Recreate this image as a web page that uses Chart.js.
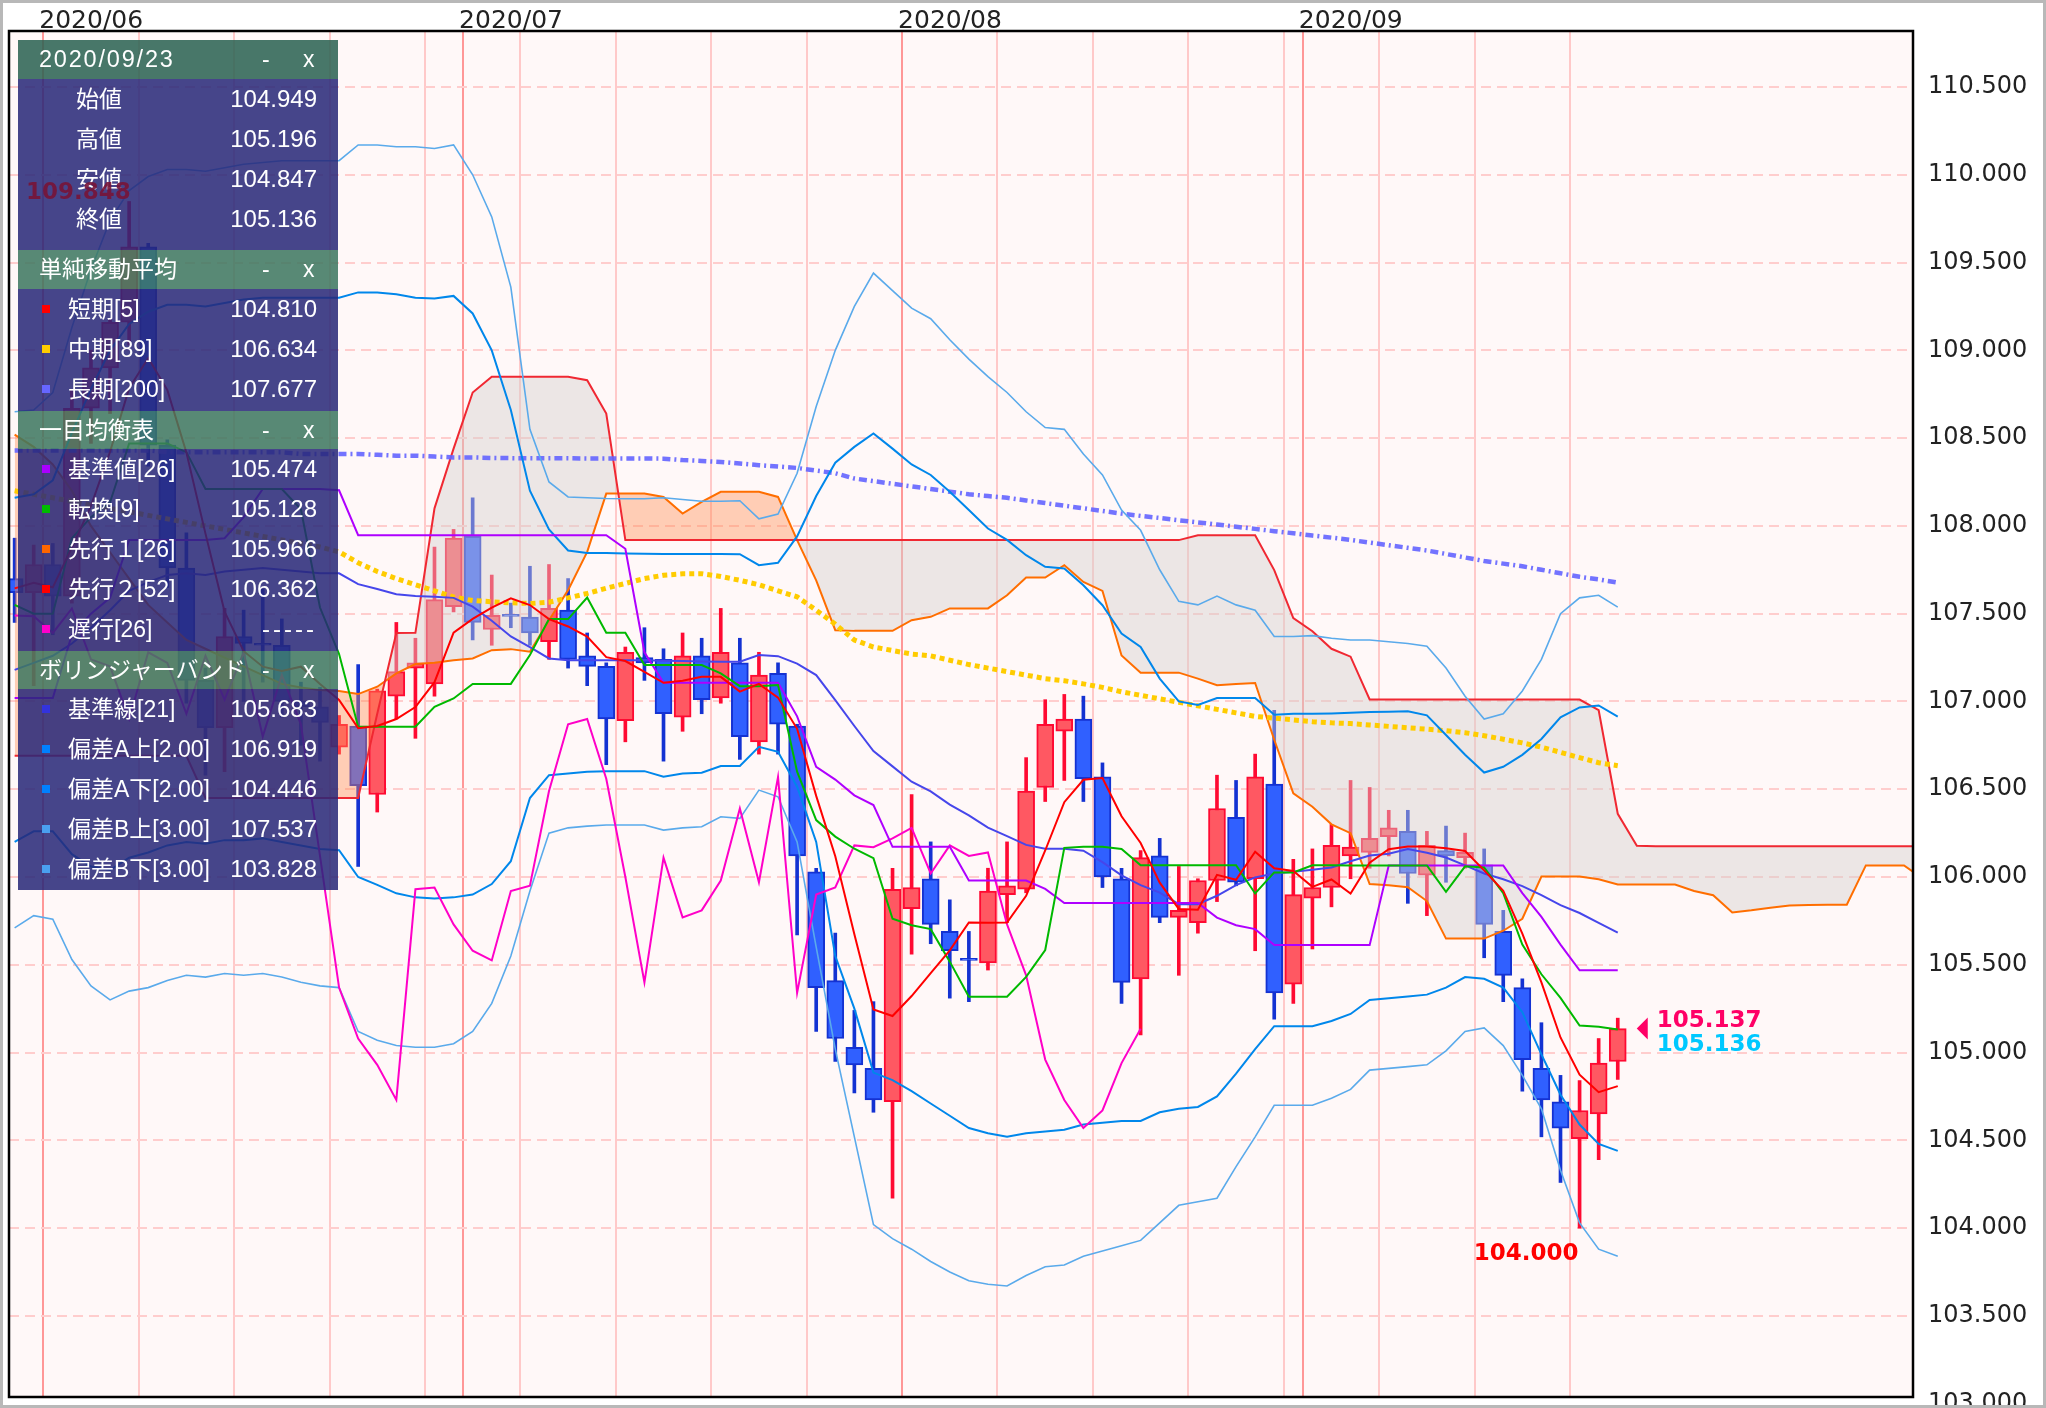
<!DOCTYPE html>
<html>
<head>
<meta charset="utf-8">
<script src="https://cdn.jsdelivr.net/npm/chart.js@4.4.1/dist/chart.umd.min.js"></script>
<style>
html,body{margin:0;padding:0;background:#fff;}
#wrap{position:relative;width:2046px;height:1408px;overflow:hidden;}
#c{position:absolute;left:0;top:0;}
#panel{position:absolute;left:18px;top:40px;width:320px;color:#fff;font-family:"Liberation Sans","Noto Sans CJK JP",sans-serif;font-size:23px;}
.hd{position:relative;height:39px;line-height:39px;background:rgba(61,119,95,0.86);}
.hd.first{background:rgba(42,98,81,0.86);}
.hd .t{position:absolute;left:21px;}
.hd .date{letter-spacing:1.8px;font-size:23.5px;}
.hd .mn{position:absolute;left:244px;}
.hd .cl{position:absolute;left:285px;}
.bd{position:relative;background:rgba(40,40,120,0.86);}
.row{position:relative;height:40px;line-height:40px;}
.row .lb0{position:absolute;left:58px;}
.row .lb{position:absolute;left:50px;}
.row i{position:absolute;left:24px;top:16px;width:8px;height:8px;}
.row .v{position:absolute;right:21px;font-size:24px;}
#hilab{position:absolute;left:26px;top:180px;font:bold 23px "DejaVu Sans";line-height:23px;color:rgba(120,20,55,0.9);}
</style>
</head>
<body>
<div id="wrap">
<canvas id="c" width="2046" height="1408" style="width:2046px;height:1408px"></canvas>
<div id="panel">
  <div class="hd first"><span class="t date">2020/09/23</span><span class="mn">-</span><span class="cl">x</span></div>
  <div class="bd" style="height:171px">
    <div class="row"><span class="lb0">始値</span><span class="v">104.949</span></div>
    <div class="row"><span class="lb0">高値</span><span class="v">105.196</span></div>
    <div class="row"><span class="lb0">安値</span><span class="v">104.847</span></div>
    <div class="row"><span class="lb0">終値</span><span class="v">105.136</span></div>
  </div>
  <div class="hd"><span class="t">単純移動平均</span><span class="mn">-</span><span class="cl">x</span></div>
  <div class="bd" style="height:122px">
    <div class="row"><i style="background:#ff0000"></i><span class="lb">短期[5]</span><span class="v">104.810</span></div>
    <div class="row"><i style="background:#ffcc00"></i><span class="lb">中期[89]</span><span class="v">106.634</span></div>
    <div class="row"><i style="background:#6666ff"></i><span class="lb">長期[200]</span><span class="v">107.677</span></div>
  </div>
  <div class="hd" style="height:38px;line-height:38px"><span class="t">一目均衡表</span><span class="mn">-</span><span class="cl">x</span></div>
  <div class="bd" style="height:202px">
    <div class="row"><i style="background:#aa00ff"></i><span class="lb">基準値[26]</span><span class="v">105.474</span></div>
    <div class="row"><i style="background:#00bb00"></i><span class="lb">転換[9]</span><span class="v">105.128</span></div>
    <div class="row"><i style="background:#ff6600"></i><span class="lb">先行１[26]</span><span class="v">105.966</span></div>
    <div class="row"><i style="background:#ff0000"></i><span class="lb">先行２[52]</span><span class="v">106.362</span></div>
    <div class="row"><i style="background:#ff00cc"></i><span class="lb">遅行[26]</span><span class="v" style="letter-spacing:3px">-----</span></div>
  </div>
  <div class="hd" style="height:38px;line-height:38px"><span class="t">ボリンジャーバンド</span><span class="mn">-</span><span class="cl">x</span></div>
  <div class="bd" style="height:201px">
    <div class="row"><i style="background:#3333dd"></i><span class="lb">基準線[21]</span><span class="v">105.683</span></div>
    <div class="row"><i style="background:#0080ff"></i><span class="lb">偏差A上[2.00]</span><span class="v">106.919</span></div>
    <div class="row"><i style="background:#0080ff"></i><span class="lb">偏差A下[2.00]</span><span class="v">104.446</span></div>
    <div class="row"><i style="background:#4aa0f0"></i><span class="lb">偏差B上[3.00]</span><span class="v">107.537</span></div>
    <div class="row"><i style="background:#4aa0f0"></i><span class="lb">偏差B下[3.00]</span><span class="v">103.828</span></div>
  </div>
</div>
<div id="hilab">109.848</div>
</div>
<script>
// ---------- data (bar index 0 = 2020/06/01, arrays start at index -2 = 2020/05/28) ----------
const START = -2;
const monthTicks = [-0.5, 21.5, 44.5, 65.5];
const monthLabels = ['2020/06', '2020/07', '2020/08', '2020/09'];
const weekTicks = [-0.5, 4.5, 9.5, 14.5, 19.5, 21.5, 24.5, 29.5, 34.5, 39.5, 44.5, 49.5, 54.5, 59.5, 64.5, 65.5, 69.5, 74.5, 79.5];
const yTicks = [103.0,103.5,104.0,104.5,105.0,105.5,106.0,106.5,107.0,107.5,108.0,108.5,109.0,109.5,110.0,110.5];

const open = [107.70,107.62,107.78,107.60,108.67,108.90,109.16,109.59,108.46,107.76,107.12,106.85,107.37,107.33,107.32,107.00,106.97,
106.74,106.86,106.47,107.03,107.19,107.10,107.54,107.94,107.41,107.495,
107.48,107.34,107.52,107.26,107.20,106.89,107.25,107.24,106.91,107.26,
107.02,107.22,106.77,107.16,106.86,106.03,105.41,105.03,104.91,104.72,
105.82,105.99,105.69,105.535,105.51,105.90,105.93,106.51,106.83,106.90,
106.57,105.99,105.42,106.12,105.77,105.74,105.98,106.34,105.99,106.53,
105.39,105.88,105.94,106.12,106.14,106.23,106.26,106.01,106.15,106.11,
106.07,105.69,105.37,104.91,104.72,104.51,104.65,104.949];
const high = [107.93,107.89,107.90,108.77,109.00,109.18,109.848,109.61,108.49,107.96,107.19,107.53,107.52,107.64,107.47,107.11,107.08,
106.92,107.21,107.07,107.45,107.36,107.88,107.98,108.16,107.72,107.56,
107.77,107.78,107.70,107.39,107.22,107.31,107.42,107.30,107.39,107.36,
107.53,107.36,107.28,107.22,106.87,106.05,105.68,105.24,105.29,106.05,
106.47,106.20,105.87,105.69,106.05,106.20,106.68,107.01,107.04,107.03,
106.65,106.05,106.15,106.22,106.06,105.99,106.58,106.55,106.70,106.95,
106.10,106.16,106.30,106.55,106.51,106.38,106.38,106.26,106.29,106.25,
106.16,105.81,105.42,105.17,104.87,104.84,105.08,105.196];
const low = [107.45,107.09,107.38,107.56,108.47,108.64,109.03,108.34,107.65,106.99,106.58,106.60,107.00,107.11,106.91,106.75,106.66,
106.70,106.06,106.37,106.90,106.79,107.03,107.51,107.35,107.32,107.42,
107.32,107.24,107.19,107.09,106.64,106.77,107.12,106.66,106.83,106.93,
106.99,106.67,106.70,106.70,105.67,105.12,104.95,104.77,104.66,104.17,
105.56,105.62,105.31,105.29,105.47,105.74,105.91,106.43,106.55,106.43,
105.94,105.28,105.10,105.74,105.44,105.68,105.86,105.95,105.58,105.19,
105.28,105.59,105.83,105.99,106.05,106.12,105.85,105.78,105.97,106.05,
105.54,105.29,104.78,104.52,104.26,104.00,104.39,104.847];
const close = [107.62,107.78,107.60,108.67,108.90,109.16,109.59,108.46,107.76,107.12,106.85,107.37,107.33,107.32,107.00,106.97,106.88,
106.87,106.52,107.06,107.17,107.22,107.58,107.93,107.45,107.49,107.485,
107.39,107.53,107.24,107.20,106.90,107.28,107.22,106.93,107.26,107.01,
107.28,106.80,107.15,106.87,106.12,105.37,105.08,104.93,104.73,105.93,
105.94,105.73,105.58,105.525,105.92,105.95,106.49,106.87,106.90,106.56,
106.00,105.40,106.11,105.77,105.81,105.98,106.39,105.97,106.57,105.34,
105.90,105.94,106.18,106.17,106.22,106.28,106.02,106.18,106.12,106.14,
105.73,105.44,104.96,104.73,104.57,104.67,104.94,105.136];

const sma5 = [107.644,107.676,107.65,107.878,108.114,108.422,108.784,108.956,108.774,108.418,107.956,107.512,107.286,107.198,107.174,107.198,107.10,
107.008,106.848,106.86,106.90,106.968,107.11,107.392,107.47,107.534,107.587,
107.549,107.469,107.427,107.369,107.252,107.23,107.168,107.106,107.118,107.14,
107.14,107.056,107.10,107.022,106.844,106.462,106.118,105.674,105.246,105.208,
105.322,105.452,105.582,105.741,105.739,105.741,105.893,106.151,106.426,106.554,
106.564,106.346,106.194,105.968,105.818,105.814,106.012,105.984,106.144,106.05,
106.034,105.944,105.986,105.906,106.082,106.158,106.174,106.174,106.164,106.148,
106.038,105.922,105.678,105.40,105.086,104.874,104.774,104.809];
const sma89 = [108.20,108.18,108.16,108.14,108.12,108.10,108.08,108.06,108.04,108.02,108.00,107.98,107.96,107.94,107.92,107.90,107.88,
107.852,107.79,107.74,107.70,107.665,107.63,107.595,107.575,107.568,107.562,
107.558,107.565,107.59,107.615,107.645,107.672,107.70,107.719,107.727,107.728,
107.712,107.69,107.665,107.63,107.596,107.52,107.44,107.35,107.31,107.29,
107.27,107.26,107.235,107.21,107.19,107.17,107.15,107.13,107.118,107.10,
107.08,107.055,107.035,107.015,106.995,106.975,106.955,106.935,106.915,106.905,
106.895,106.885,106.878,106.874,106.866,106.858,106.85,106.842,106.833,106.822,
106.805,106.785,106.764,106.74,106.71,106.68,106.651,106.634];
const sma200 = [108.43,108.43,108.43,108.43,108.43,108.43,108.43,108.43,108.42,108.42,108.42,108.42,108.42,108.42,108.42,108.41,108.41,
108.41,108.41,108.405,108.40,108.40,108.395,108.39,108.39,108.387,108.386,
108.385,108.385,108.385,108.384,108.384,108.384,108.384,108.383,108.375,108.37,
108.364,108.355,108.346,108.338,108.33,108.315,108.30,108.27,108.255,108.24,
108.225,108.21,108.195,108.18,108.17,108.16,108.145,108.13,108.115,108.10,
108.085,108.07,108.057,108.045,108.032,108.02,108.008,107.995,107.983,107.97,
107.958,107.945,107.933,107.92,107.905,107.89,107.875,107.86,107.84,107.82,
107.80,107.785,107.77,107.75,107.73,107.71,107.695,107.677];
const tenkan = [107.55,107.50,107.50,107.93,108.05,108.135,108.47,108.47,108.47,108.42,108.21,108.21,108.21,108.21,108.21,108.095,107.535,
107.27,106.856,106.856,106.856,106.856,106.97,107.017,107.10,107.10,107.10,
107.264,107.469,107.469,107.592,107.391,107.391,107.207,107.207,107.207,107.207,
107.16,107.087,107.087,107.093,106.60,106.324,106.23,106.161,106.107,105.762,
105.725,105.703,105.518,105.318,105.318,105.318,105.431,105.584,106.166,106.172,
106.172,106.16,106.067,106.067,106.067,106.067,106.067,106.067,105.906,106.026,
106.026,106.067,106.067,106.066,106.066,106.066,106.066,106.066,105.915,106.061,
106.054,105.908,105.615,105.446,105.311,105.154,105.147,105.131];
const kijun = [107.02,107.02,107.02,107.38,107.50,107.59,107.92,107.92,107.92,107.92,107.92,107.93,108.05,108.21,108.21,108.21,108.21,
108.203,107.947,107.947,107.947,107.947,107.947,107.947,107.947,107.947,107.947,
107.947,107.947,107.947,107.947,107.947,107.87,107.28,107.106,107.106,107.106,
107.106,107.106,107.106,107.106,106.915,106.628,106.555,106.465,106.41,106.172,
106.172,106.172,106.172,105.98,105.98,105.98,105.98,105.932,105.852,105.852,
105.852,105.852,105.852,105.852,105.852,105.852,105.769,105.725,105.703,105.612,
105.612,105.612,105.612,105.612,105.612,106.066,106.066,106.066,106.066,106.066,
106.066,106.066,105.908,105.773,105.615,105.469,105.469,105.469];
// chikou: index -2 .. 57
const chikou = [107.49,107.485,107.39,107.53,107.24,107.20,106.90,107.28,107.22,106.93,107.26,107.01,107.28,106.80,107.15,106.87,106.12,105.37,105.08,104.93,
104.73,105.93,105.94,105.73,105.58,105.525,105.92,105.95,106.49,106.87,106.90,106.56,106.00,105.40,106.11,105.77,105.81,105.98,106.39,105.97,
106.57,105.34,105.90,105.94,106.18,106.17,106.22,106.28,106.02,106.18,106.12,106.14,105.73,105.44,104.96,104.73,104.57,104.67,104.94,105.136];
// senkou spans: index -2 .. 98
const senkouA = [108.52,108.45,108.35,108.20,108.00,107.85,107.70,107.55,107.45,107.35,107.30,107.25,107.20,107.15,107.10,107.08,107.065,
107.06,107.042,107.084,107.16,107.213,107.22,107.235,107.245,107.292,107.298,
107.283,107.463,107.634,107.852,108.184,108.184,108.184,108.165,108.07,108.137,
108.194,108.194,108.194,108.165,107.919,107.69,107.406,107.402,107.402,107.402,
107.463,107.482,107.53,107.53,107.53,107.605,107.706,107.706,107.776,107.681,
107.63,107.262,107.164,107.164,107.164,107.13,107.092,107.10,107.105,106.782,
106.477,106.40,106.30,106.25,105.96,105.953,105.942,105.863,105.649,105.649,
105.649,105.694,105.762,106.003,106.003,106.003,105.987,105.958,105.958,105.957,
105.957,105.92,105.896,105.798,105.81,105.825,105.837,105.84,105.842,105.842,
106.066,106.066,106.066,105.99];
const senkouB = [106.69,106.69,106.69,106.69,106.69,106.69,106.69,106.69,106.69,106.69,106.45,106.45,106.45,106.45,106.45,106.45,106.45,
106.45,106.45,106.93,107.39,107.391,108.10,108.44,108.76,108.849,108.849,
108.849,108.849,108.849,108.83,108.64,107.919,107.919,107.919,107.919,107.919,
107.919,107.919,107.919,107.919,107.919,107.919,107.919,107.919,107.919,107.919,
107.919,107.919,107.919,107.919,107.919,107.919,107.919,107.919,107.919,107.919,
107.919,107.919,107.919,107.919,107.919,107.947,107.947,107.947,107.947,107.748,
107.475,107.40,107.30,107.255,107.011,107.011,107.011,107.011,107.011,107.011,
107.011,107.011,107.011,107.011,107.011,107.011,106.95,106.36,106.178,106.175,
106.175,106.175,106.175,106.175,106.175,106.175,106.175,106.175,106.175,106.175,
106.175,106.175,106.175,106.175];
const bbMid = [107.18,107.22,107.26,107.33,107.42,107.52,107.63,107.68,107.72,107.73,107.72,107.74,107.75,107.76,107.75,107.74,107.73,
107.73,107.668,107.64,107.611,107.60,107.596,107.59,107.54,107.46,107.37,
107.31,107.245,107.235,107.235,107.235,107.235,107.235,107.232,107.23,107.228,
107.226,107.226,107.264,107.258,107.216,107.15,107.008,106.86,106.717,106.63,
106.543,106.488,106.412,106.351,106.281,106.233,106.183,106.161,106.161,106.15,
106.085,106.009,105.954,105.911,105.845,105.845,105.893,105.954,105.998,106.02,
106.03,106.041,106.054,106.09,106.122,106.133,106.16,106.138,106.111,106.066,
106.02,105.987,105.948,105.897,105.84,105.795,105.739,105.683];
const bbUp2 = [108.16,108.18,108.26,108.53,108.78,109.00,109.15,109.22,109.26,109.26,109.25,109.27,109.29,109.30,109.30,109.30,109.30,
109.30,109.33,109.33,109.32,109.30,109.295,109.31,109.21,109.00,108.66,
108.20,107.98,107.86,107.846,107.845,107.843,107.842,107.84,107.84,107.84,
107.84,107.839,107.776,107.79,107.94,108.17,108.36,108.45,108.526,108.44,
108.35,108.29,108.194,108.09,107.985,107.92,107.833,107.767,107.757,107.662,
107.548,107.387,107.31,107.13,107.00,106.98,107.02,107.02,107.02,106.924,
106.93,106.93,106.932,106.935,106.94,106.942,106.944,106.921,106.809,106.696,
106.595,106.628,106.696,106.786,106.91,106.966,106.977,106.914];
const bbLo2 = [106.20,106.26,106.26,106.13,106.06,106.04,106.11,106.14,106.18,106.20,106.19,106.21,106.21,106.22,106.20,106.18,106.16,
106.153,106.00,105.955,105.907,105.884,105.878,105.884,105.90,105.96,106.09,
106.45,106.58,106.59,106.60,106.603,106.603,106.603,106.571,106.59,106.594,
106.632,106.632,106.742,106.713,106.514,106.20,105.55,105.25,104.886,104.843,
104.78,104.71,104.64,104.57,104.54,104.52,104.54,104.55,104.56,104.59,
104.60,104.61,104.61,104.66,104.68,104.69,104.75,104.88,105.02,105.15,
105.15,105.15,105.18,105.22,105.30,105.31,105.32,105.33,105.37,105.43,
105.42,105.37,105.23,104.99,104.76,104.59,104.48,104.44];
const bbUp3 = [108.65,108.66,108.76,109.13,109.46,109.74,109.91,109.99,110.03,110.03,110.02,110.04,110.06,110.07,110.08,110.08,110.08,
110.08,110.17,110.17,110.16,110.16,110.15,110.17,110.00,109.76,109.36,
108.55,108.25,108.165,108.16,108.156,108.155,108.155,108.16,108.15,108.14,
108.14,108.143,108.04,108.067,108.30,108.68,109.00,109.25,109.44,109.34,
109.24,109.18,109.06,108.95,108.85,108.76,108.65,108.56,108.55,108.41,
108.29,108.09,107.975,107.75,107.57,107.55,107.60,107.55,107.52,107.37,
107.37,107.375,107.36,107.35,107.35,107.34,107.33,107.315,107.19,107.03,
106.90,106.93,107.06,107.24,107.50,107.59,107.605,107.537];
const bbLo3 = [105.71,105.78,105.76,105.53,105.38,105.30,105.35,105.37,105.41,105.44,105.43,105.45,105.44,105.45,105.43,105.40,105.38,
105.37,105.12,105.07,105.04,105.03,105.03,105.05,105.12,105.28,105.55,
105.92,106.25,106.28,106.29,106.296,106.296,106.296,106.267,106.28,106.286,
106.343,106.334,106.495,106.457,106.20,105.60,105.02,104.52,104.02,103.94,
103.88,103.81,103.75,103.70,103.68,103.67,103.73,103.78,103.79,103.84,
103.87,103.90,103.93,104.03,104.13,104.15,104.17,104.35,104.52,104.70,
104.70,104.70,104.74,104.79,104.90,104.91,104.92,104.93,105.01,105.12,
105.14,105.04,104.87,104.68,104.33,104.03,103.88,103.84];

// ---------- chart ----------
const XMIN = -2.295, XMAX = 97.47, YMIN = 103.038, YMAX = 110.819;
const pts = arr => arr.map((v, i) => ({x: i + START, y: v}));
const isUp = i => close[i] >= open[i];
const UP_FILL = 'rgb(255,88,98)', UP_LINE = 'rgb(255,10,50)';
const DN_FILL = 'rgb(48,96,255)', DN_LINE = 'rgb(20,50,210)';

function line(label, data, color, width, order, extra) {
  return Object.assign({type: 'line', label, data: pts(data), borderColor: color, borderWidth: width,
    pointRadius: 0, tension: 0, fill: false, order}, extra || {});
}

const datasets = [
  {type: 'bar', label: 'wick', data: low.map((l, i) => ({x: i + START, y: [l, high[i]]})),
   backgroundColor: low.map((l, i) => isUp(i) ? UP_LINE : DN_LINE), borderWidth: 0,
   barThickness: 3, grouped: false, order: 21},
  {type: 'bar', label: 'body', data: open.map((o, i) => ({x: i + START, y: [o, close[i]]})),
   backgroundColor: open.map((o, i) => isUp(i) ? UP_FILL : DN_FILL),
   borderColor: open.map((o, i) => isUp(i) ? UP_LINE : DN_LINE),
   borderWidth: 2, borderSkipped: false, minBarLength: 2, barThickness: 17, grouped: false, order: 20},
  line('先行1', senkouA, 'rgb(255,110,0)', 2, 11, {fill: {target: 3, above: 'rgba(255,140,80,0.40)', below: 'rgba(212,208,207,0.45)'}}),
  line('先行2', senkouB, 'rgb(240,40,50)', 2, 10),
  line('長期', sma200, 'rgba(100,100,255,0.9)', 4.5, 9, {borderDash: [8, 4, 2, 4]}),
  line('中期', sma89, 'rgb(255,204,0)', 5, 8, {borderDash: [5, 4]}),
  line('偏差B上', bbUp3, 'rgb(90,170,235)', 1.6, 7),
  line('偏差B下', bbLo3, 'rgb(90,170,235)', 1.6, 7),
  line('偏差A上', bbUp2, 'rgb(0,135,235)', 2, 6),
  line('偏差A下', bbLo2, 'rgb(0,135,235)', 2, 6),
  line('基準線', bbMid, 'rgb(70,70,235)', 2, 5),
  line('遅行', chikou, 'rgb(255,0,200)', 2, 4),
  line('基準値', kijun, 'rgb(175,0,255)', 2, 3),
  line('転換', tenkan, 'rgb(0,185,0)', 2, 2),
  line('短期', sma5, 'rgb(255,0,0)', 2, 1)
];

const deco = {
  id: 'deco',
  beforeDraw(chart) {
    const {ctx, chartArea: a} = chart;
    ctx.save();
    ctx.fillStyle = '#ffffff';
    ctx.fillRect(0, 0, chart.width, chart.height);
    ctx.fillStyle = '#fff8f8';
    ctx.fillRect(a.left, a.top, a.right - a.left, a.bottom - a.top);
    ctx.restore();
  },
  afterDraw(chart) {
    const {ctx, chartArea: a, scales: {x, y}} = chart;
    ctx.save();
    ctx.strokeStyle = '#000';
    ctx.lineWidth = 2.5;
    ctx.strokeRect(a.left, a.top, a.right - a.left, a.bottom - a.top);
    ctx.strokeStyle = '#b8b8b8';
    ctx.lineWidth = 3;
    ctx.strokeRect(1.5, 1.5, chart.width - 3, chart.height - 3);
    // last price markers
    const last = close.length - 1 + START;
    const xl = x.getPixelForValue(last);
    const yA = y.getPixelForValue(105.137), yB = y.getPixelForValue(105.136);
    ctx.fillStyle = 'rgb(255,0,102)';
    ctx.beginPath();
    ctx.moveTo(xl + 19, yA); ctx.lineTo(xl + 30, yA - 11); ctx.lineTo(xl + 30, yA + 11); ctx.closePath();
    ctx.fill();
    ctx.font = 'bold 23px "DejaVu Sans"';
    ctx.textAlign = 'left';
    ctx.textBaseline = 'alphabetic';
    ctx.fillText('105.137', xl + 39, yA - 2);
    ctx.fillStyle = 'rgb(0,200,255)';
    ctx.fillText('105.136', xl + 39, yB + 22);
    // low marker
    ctx.fillStyle = 'rgb(255,0,0)';
    ctx.textAlign = 'right';
    ctx.fillText('104.000', x.getPixelForValue(80) - 1, y.getPixelForValue(104.0) + 32);
    ctx.restore();
  }
};

new Chart(document.getElementById('c'), {
  type: 'bar',
  data: {datasets},
  options: {
    responsive: false,
    animation: false,
    devicePixelRatio: 1,
    layout: {padding: {left: 9, right: 0, top: 0, bottom: 11}},
    plugins: {legend: {display: false}, tooltip: {enabled: false}},
    scales: {
      x: {
        type: 'linear', position: 'top', min: XMIN, max: XMAX, offset: false,
        afterBuildTicks: s => { s.ticks = weekTicks.map(v => ({value: v})); },
        afterFit: s => { s.height = 31; s.paddingLeft = 0; s.paddingRight = 0; s.paddingTop = 0; s.paddingBottom = 0; },
        ticks: {
          autoSkip: false, maxRotation: 0, minRotation: 0, align: 'start', padding: -5, labelOffset: -4,
          color: '#222', font: {family: 'DejaVu Sans', size: 25},
          callback: v => { const k = monthTicks.indexOf(v); return k >= 0 ? monthLabels[k] : ''; }
        },
        grid: {offset: false, drawTicks: false, lineWidth: 2,
          color: c => (c.tick && monthTicks.indexOf(c.tick.value) >= 0) ? 'rgba(255,140,140,0.9)' : 'rgba(255,195,195,0.9)'},
        border: {display: false}
      },
      y: {
        type: 'linear', position: 'right', min: YMIN, max: YMAX,
        afterBuildTicks: s => { s.ticks = yTicks.map(v => ({value: v})); },
        afterFit: s => { s.width = 133; s.paddingTop = 0; s.paddingBottom = 0; s.paddingLeft = 0; s.paddingRight = 0; },
        ticks: {padding: 15, color: '#222', font: {family: 'DejaVu Sans', size: 24}, callback: v => v.toFixed(3)},
        grid: {drawTicks: false, lineWidth: 2,
          color: c => (c.tick && c.tick.value < 103.2) ? 'rgba(0,0,0,0)' : 'rgb(255,205,205)'},
        border: {display: false, dash: [10, 6]}
      }
    }
  },
  plugins: [deco]
});
</script>
</body>
</html>
